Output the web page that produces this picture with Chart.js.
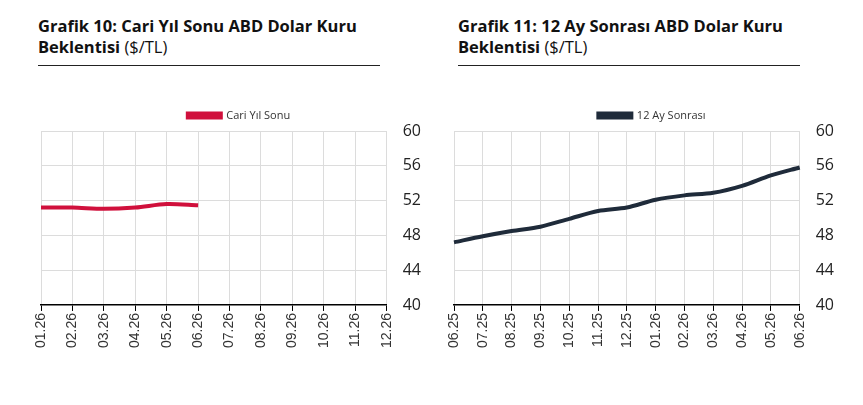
<!DOCTYPE html>
<html>
<head>
<meta charset="utf-8">
<script src="https://cdn.jsdelivr.net/npm/chart.js@4.4.0/dist/chart.umd.min.js"></script>
<style>
  body { margin: 0; background: #fff; width: 863px; height: 405px; position: relative; overflow: hidden; font-family: "Open Sans", sans-serif; }
  .title { position: absolute; top: 15px; font-size: 16.5px; line-height: 21px; color: #111; font-weight: 700; padding-bottom: 8px; border-bottom: 1px solid #222; width: 342px; white-space: nowrap; }
  .title span { font-weight: 400; }
  .box { position: absolute; top: 102px; width: 440px; height: 248px; }
</style>
</head>
<body>
<div class="title" style="left:38px">Grafik 10: Cari Yıl Sonu ABD Dolar Kuru<br>Beklentisi <span>($/TL)</span></div>
<div class="title" style="left:458px">Grafik 11: 12 Ay Sonrası ABD Dolar Kuru<br>Beklentisi <span>($/TL)</span></div>
<div class="box" style="left:10px"><canvas id="chart1"></canvas></div>
<div class="box" style="left:423px"><canvas id="chart2"></canvas></div>
<script>
var months1 = ["01.26", "02.26", "03.26", "04.26", "05.26", "06.26", "07.26", "08.26", "09.26", "10.26", "11.26", "12.26"];
var cariYilSonu = [51.2, 51.2, 51.05, 51.2, 51.6, 51.45, null, null, null, null, null, null];

var months2 = ["06.25", "07.25", "08.25", "09.25", "10.25", "11.25", "12.25", "01.26", "02.26", "03.26", "04.26", "05.26", "06.26"];
var onIkiAySonrasi = [47.2, 47.9, 48.5, 49.0, 49.9, 50.8, 51.2, 52.1, 52.6, 52.9, 53.7, 54.9, 55.8];

var yTicks = [40, 44, 48, 52, 56, 60];

function makeChart(id, labels, data, label, color) {
  new Chart(document.getElementById(id), {
    type: 'line',
    data: {
      labels: labels,
      datasets: [{
        label: label,
        data: data,
        borderColor: color,
        backgroundColor: color,
        borderWidth: 4,
        pointRadius: 0,
        tension: 0.3,
        fill: false
      }]
    },
    options: {
      responsive: false,
      animation: false,
      layout: { padding: { left: 31, right: 13, top: 0, bottom: 0 } },
      plugins: {
        legend: {
          position: 'top',
          labels: {
            boxWidth: 33,
            boxHeight: 4,
            padding: 8,
            color: '#333',
            font: { family: 'Open Sans', size: 11 }
          }
        },
        tooltip: { enabled: false }
      },
      scales: {
        x: {
          offset: false,
          grid: { color: '#dcdcdc', tickColor: '#000', tickLength: 6 },
          border: { color: '#000', width: 1.5 },
          ticks: {
            maxRotation: 90,
            minRotation: 90,
            color: '#333',
            padding: 2,
            font: { family: 'Liberation Sans', size: 14 }
          }
        },
        y: {
          position: 'right',
          min: 40,
          max: 60,
          afterBuildTicks: function (axis) {
            axis.ticks = yTicks.map(function (v) { return { value: v }; });
          },
          grid: { color: '#dcdcdc', drawTicks: false },
          border: { display: false },
          ticks: {
            color: '#222',
            padding: 16,
            font: { family: 'Open Sans', size: 16 }
          }
        }
      }
    }
  });
}

var c1 = document.getElementById('chart1');
c1.width = 440; c1.height = 248;
var c2 = document.getElementById('chart2');
c2.width = 440; c2.height = 248;
makeChart('chart1', months1, cariYilSonu, 'Cari Yıl Sonu', '#d0103c');
makeChart('chart2', months2, onIkiAySonrasi, '12 Ay Sonrası', '#1f2b3a');
</script>
</body>
</html>
